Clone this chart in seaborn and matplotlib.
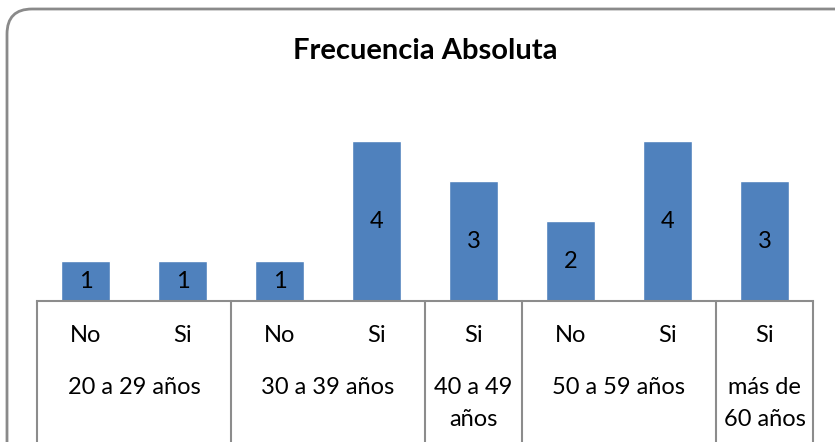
import matplotlib
matplotlib.use("Agg")
import matplotlib.pyplot as plt
from matplotlib.patches import FancyBboxPatch
import matplotlib.transforms as mtransforms
import pandas as pd
import seaborn as sns

# data
groups = ["20 a 29 años", "30 a 39 años", "40 a 49\naños", "50 a 59 años", "más de\n60 años"]
answers = [["No", "Si"], ["No", "Si"], ["Si"], ["No", "Si"], ["Si"]]
values = [1, 1, 1, 4, 3, 2, 4, 3]

BAR = "#4F81BD"
GRID = "#8c8c8c"
FS = 17

sns.set_theme(style="white")
plt.rcParams["font.family"] = ["Lato", "DejaVu Sans"]

rows = []
for g, ans in zip(groups, answers):
    for a in ans:
        rows.append({"group": g, "answer": a, "key": f"{g}|{a}"})
df = pd.DataFrame(rows)
df["value"] = values

W, H = 835, 442
fig = plt.figure(figsize=(W / 100, H / 100), dpi=100)
ax = fig.add_axes([37 / W, (H - 301) / H, (813 - 37) / W, 200 / H])

sns.barplot(data=df, x="key", y="value", color=BAR, width=0.5, saturation=1,
            ax=ax, zorder=2)
ax.set_ylim(0, 5)
ax.set_xlim(-0.5, len(df) - 0.5)
ax.set_xlabel("")
ax.set_ylabel("")
ax.set_yticks([])
ax.set_xticks([])
for s in ["top", "left", "right"]:
    ax.spines[s].set_visible(False)
ax.spines["bottom"].set_color(GRID)
ax.spines["bottom"].set_linewidth(1.5)

for i, v in enumerate(df["value"]):
    ax.text(i, v / 2, str(v), ha="center", va="center", fontsize=FS, color="black")

# multi-level category axis
trans = mtransforms.blended_transform_factory(ax.transData, ax.transAxes)
px = 1 / 200  # axes fraction per pixel vertically
pos = 0
edges = [-0.5]
for g, ans in zip(groups, answers):
    for j, a in enumerate(ans):
        ax.text(pos + j, -35 * px, a, transform=trans, ha="center", va="center",
                fontsize=FS, color="black")
    mid = pos + (len(ans) - 1) / 2
    for k, line in enumerate(g.split("\n")):
        ax.text(mid, (-86 - 33 * k) * px, line, transform=trans, ha="center",
                va="center", fontsize=FS, color="black")
    pos += len(ans)
    edges.append(pos - 0.5)

for e in edges:
    ax.plot([e, e], [0, -160 * px], transform=trans, color=GRID, lw=1.5,
            clip_on=False, zorder=3)

# title
fig.text((37 + 813) / 2 / W, 1 - 51 / H, "Frecuencia Absoluta", ha="center",
         va="center", fontsize=21, fontweight="bold", color="black")

# rounded chart frame (cut off on the right and bottom)
frame = FancyBboxPatch((7 / W, -0.2), (W + 40) / W, (H - 9) / H + 0.2,
                       boxstyle="round,pad=0,rounding_size=0.03",
                       transform=fig.transFigure, fill=False,
                       edgecolor="#8a8a8a", linewidth=2, mutation_aspect=W / H)
fig.patches.append(frame)

fig.savefig("out.png", dpi=100)
